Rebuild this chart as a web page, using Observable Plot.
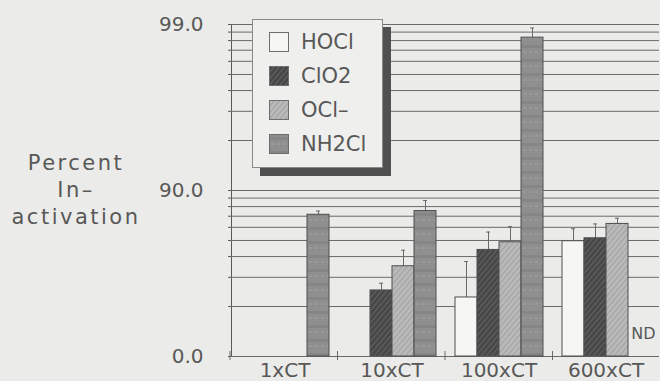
<!DOCTYPE html>
<html><head><meta charset="utf-8">
<script src="https://cdn.jsdelivr.net/npm/d3@7"></script>
<script src="https://cdn.jsdelivr.net/npm/@observablehq/plot@0.6"></script>
<style>
body{margin:0;background:#ebebe9;}
#wrap{position:relative;width:660px;height:381px;font-family:"DejaVu Sans",sans-serif;color:#585858;overflow:hidden;}
#ylab{position:absolute;left:0;top:150px;width:152px;text-align:center;font-size:21px;line-height:27px;letter-spacing:2.5px;}
#legend{position:absolute;left:252px;top:19px;width:131px;height:149px;box-sizing:border-box;border:1px solid #8a8a8a;background:#efefed;box-shadow:8px 8px 0 #505050;}
.row{position:absolute;left:16px;height:20px;display:flex;align-items:center;font-size:21px;}
.row svg{margin-right:12px;}
</style></head><body><div id="wrap"></div>
<script>
const categories = ["1xCT", "10xCT", "100xCT", "600xCT"];
const series = ["HOCl", "ClO2", "OCl–", "NH2Cl"];
// percent inactivation (bar tops), null = no bar
const hoclValues  = [null, null, 55.9, 79.8];
const clo2Values  = [null, 60.0, 77.2, 80.6];
const oclValues   = [null, 71.4, 79.5, 84.1];
const nh2clValues = [86.0, 86.7, 98.8, null];
// upper ends of error bars (percent)
const hoclErr  = [null, null, 73.2, 83.0];
const clo2Err  = [null, 63.8, 82.2, 84.1];
const oclErr   = [null, 77.1, 83.5, 85.3];
const nh2clErr = [86.7, 88.5, 98.95, null];
// notes
const noteSeries = "NH2Cl";
const noteCategory = "600xCT";
const noteText = "ND";
// y axis: reduction factors (log scale) and labels
const gridTicks = [1,2,3,4,5,6,7,8,9,10,20,30,40,50,60,70,80,90,100];
const labeledTicks = [1, 10, 100];
const tickLabels = ["0.0", "90.0", "99.0"];
const yTitle = ["Percent", "In–", "activation"];

const fills = {"HOCl":"#f6f6f4","ClO2":"url(#hDark)","OCl–":"url(#hLight)","NH2Cl":"url(#mottle)"};
const valueSets = [hoclValues, clo2Values, oclValues, nh2clValues];
const errSets = [hoclErr, clo2Err, oclErr, nh2clErr];
const toFactor = p => p == null ? NaN : 100 / (100 - p);

const table = [];
series.forEach((s, i) => categories.forEach((c, j) => {
  const v = valueSets[i][j];
  const note = (s === noteSeries && c === noteCategory) ? noteText : null;
  if (v != null || note) table.push({cat: c, series: s, f: toFactor(v), fe: toFactor(errSets[i][j]), note, fill: fills[s]});
}));
const labelMap = new Map(labeledTicks.map((t, i) => [t, tickLabels[i]]));

const plot = Plot.plot({
  width: 660, height: 381,
  marginLeft: 230, marginRight: 0, marginTop: 24, marginBottom: 25,
  style: {background: "transparent", fontFamily: "DejaVu Sans, sans-serif", fontSize: "20px", color: "#585858", overflow: "visible"},
  facet: {data: table, x: "cat", marginRight: 0, marginBottom: 25},
  fx: {domain: categories, padding: 0, label: null, tickSize: 0, tickPadding: 6},
  x: {domain: series, axis: null, paddingInner: 0, paddingOuter: 0.337},
  y: {type: "log", domain: [1, 100], ticks: gridTicks, tickFormat: d => labelMap.get(d) ?? "", tickSize: 3, tickPadding: 25, label: null, line: true},
  color: {type: "identity"},
  marks: [
    Plot.ruleY(gridTicks, {stroke: "#6a6a6a", strokeWidth: 1}),
    Plot.ruleX(table, {x: "series", y1: "f", y2: "fe", stroke: "#6a6a6a", strokeWidth: 1}),
    Plot.tickY(table, {x: "series", y: "fe", stroke: "#6a6a6a", inset: 9}),
    Plot.barY(table, {x: "series", y1: 1, y2: "f", fill: "fill", stroke: "#4e4e4e", strokeWidth: 1}),
    Plot.text(table, {filter: d => d.note, x: "series", text: "note", frameAnchor: "bottom", dy: -18, dx: 4, fontSize: 16, fill: "#585858"})
  ]
});

const svg = plot.tagName.toLowerCase() === "svg" ? plot : plot.querySelector("svg");
svg.insertAdjacentHTML("afterbegin", `<defs>
<pattern id="hDark" width="4" height="4" patternUnits="userSpaceOnUse" patternTransform="rotate(40)"><rect width="4" height="4" fill="#474747"/><line x1="0.5" y1="0" x2="0.5" y2="4" stroke="#636363" stroke-width="1.2"/></pattern>
<pattern id="hLight" width="4" height="4" patternUnits="userSpaceOnUse" patternTransform="rotate(40)"><rect width="4" height="4" fill="#bababa"/><line x1="0.5" y1="0" x2="0.5" y2="4" stroke="#a2a2a2" stroke-width="1.2"/></pattern>
<pattern id="mottle" width="6" height="14" patternUnits="userSpaceOnUse"><rect width="6" height="14" fill="#8f8f8f"/><rect y="3" width="6" height="3" fill="#868686"/><rect x="2" y="9" width="3" height="2" fill="#999"/></pattern>
</defs>`);

// category separator ticks on the bottom axis
const band = d3.scaleBand().domain(categories).range([230, 660]);
const sep = d3.select(svg).append("g").attr("stroke", "#6a6a6a");
categories.forEach(c => sep.append("line").attr("x1", band(c)).attr("x2", band(c)).attr("y1", 351).attr("y2", 360));

const wrap = document.getElementById("wrap");
wrap.appendChild(plot);

const ylab = document.createElement("div");
ylab.id = "ylab";
ylab.innerHTML = yTitle.join("<br>");
wrap.appendChild(ylab);

const legend = document.createElement("div");
legend.id = "legend";
series.forEach((s, i) => {
  const row = document.createElement("div");
  row.className = "row";
  row.style.top = (12 + 34 * i) + "px";
  row.innerHTML = `<svg width="20" height="20"><rect x="0.5" y="0.5" width="19" height="19" fill="${fills[s]}" stroke="#6e6e6e"/></svg><span>${s}</span>`;
  legend.appendChild(row);
});
wrap.appendChild(legend);
</script></body></html>
